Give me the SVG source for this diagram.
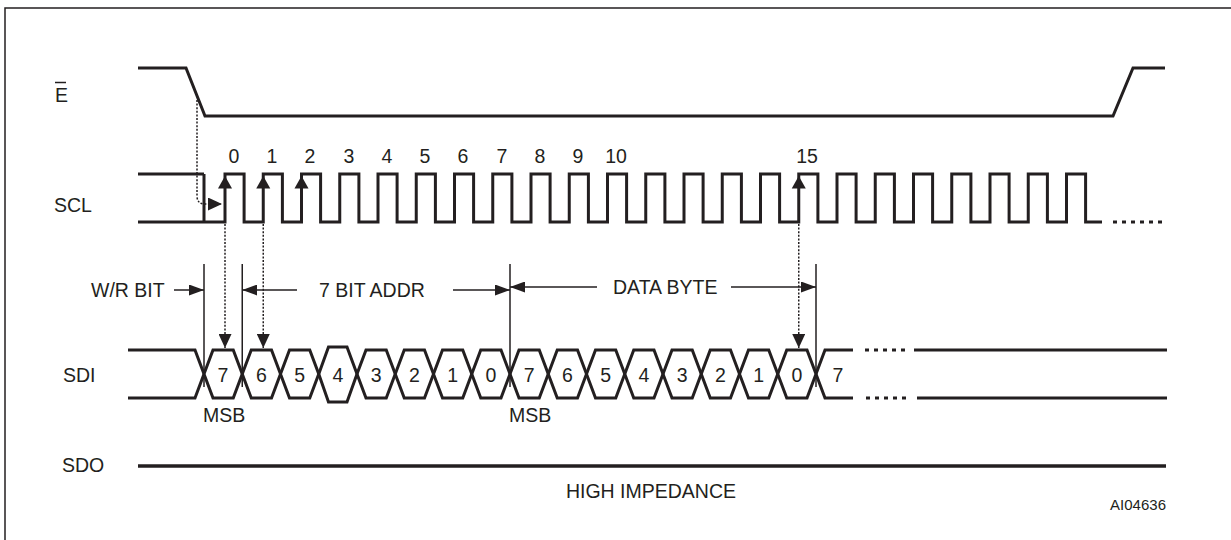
<svg xmlns="http://www.w3.org/2000/svg" width="1231" height="540" viewBox="0 0 1231 540">
<style>
text{font-family:"Liberation Sans",Arial,sans-serif;font-size:19.5px;fill:#231f20}
.sig{fill:none;stroke:#231f20;stroke-width:3;stroke-linejoin:miter}
.thin{fill:none;stroke:#231f20;stroke-width:1.5}
.dot{fill:none;stroke:#231f20;stroke-width:1.5;stroke-dasharray:2 1.6}
.head{fill:#231f20}
.mid{text-anchor:middle}
</style>
<defs>
<marker id="ah" markerUnits="userSpaceOnUse" markerWidth="15" markerHeight="11" refX="15" refY="5.5" orient="auto" viewBox="0 0 15 11">
<path d="M0,0 L15,5.5 L0,11 z" fill="#231f20"/>
</marker>
<marker id="dh" markerUnits="userSpaceOnUse" markerWidth="14" markerHeight="13" refX="14" refY="6.5" orient="auto" viewBox="0 0 14 13">
<path d="M0,0 L14,6.5 L0,13 z" fill="#231f20"/>
</marker>
</defs>
<rect x="5" y="8" width="1240" height="560" fill="none" stroke="#231f20" stroke-width="1.5"/>

<g id="E">
<text x="55" y="102">E</text>
<line x1="55" y1="82.5" x2="66" y2="82.5" class="thin"/>
<path class="sig" d="M138,68 H186 L205,116 H1113 L1133,68 H1165"/>
</g>

<g id="SCL">
<text x="54" y="212">SCL</text>
<path class="sig" d="M138,174 H204 M138,222 H204 M204,174 V222"/>
<path class="sig" d="M204,222 H225 V174 H244.1 V222 H263.25 V174 H282.4 V222 H301.5 V174 H320.6 V222 H339.75 V174 H358.9 V222 H378 V174 H397.1 V222 H416.25 V174 H435.4 V222 H454.5 V174 H473.6 V222 H492.75 V174 H511.9 V222 H531 V174 H550.1 V222 H569.25 V174 H588.4 V222 H607.5 V174 H626.6 V222 H645.75 V174 H664.9 V222 H684 V174 H703.1 V222 H722.25 V174 H741.4 V222 H760.5 V174 H779.6 V222 H798.75 V174 H817.9 V222 H837 V174 H856.1 V222 H875.25 V174 H894.4 V222 H913.5 V174 H932.6 V222 H951.75 V174 H970.9 V222 H990 V174 H1009.1 V222 H1028.25 V174 H1047.4 V222 H1066.5 V174 H1085.6 V222 H1102"/>
<line x1="1113" y1="222" x2="1164" y2="222" stroke="#231f20" stroke-width="3" stroke-dasharray="4 5"/>
<g class="mid">
<text x="234" y="163">0</text>
<text x="272" y="163">1</text>
<text x="310" y="163">2</text>
<text x="349" y="163">3</text>
<text x="387" y="163">4</text>
<text x="425" y="163">5</text>
<text x="463" y="163">6</text>
<text x="502" y="163">7</text>
<text x="540" y="163">8</text>
<text x="578" y="163">9</text>
<text x="616" y="163">10</text>
<text x="807" y="163">15</text>
</g>
</g>

<g id="SDI">
<text x="63" y="382">SDI</text>
<path class="sig" d="M128,350 H195 L204,374 M128,398 H195 L204,374"/>
<path class="sig" d="M204,374 L213,350 H233.25 L242.25,374 L233.25,398 H213 Z"/>
<path class="sig" d="M242.25,374 L251.25,350 H271.5 L280.5,374 L271.5,398 H251.25 Z"/>
<path class="sig" d="M280.5,374 L289.5,350 H309.75 L318.75,374 L309.75,398 H289.5 Z"/>
<path class="sig" d="M318.75,374 L328.5,347 H347 L357,374 L347,402 H328.5 Z"/>
<path class="sig" d="M357,374 L366,350 H386.25 L395.25,374 L386.25,398 H366 Z"/>
<path class="sig" d="M395.25,374 L404.25,350 H424.5 L433.5,374 L424.5,398 H404.25 Z"/>
<path class="sig" d="M433.5,374 L442.5,350 H462.75 L471.75,374 L462.75,398 H442.5 Z"/>
<path class="sig" d="M471.75,374 L480.75,350 H501 L510,374 L501,398 H480.75 Z"/>
<path class="sig" d="M510,374 L519,350 H539.25 L548.25,374 L539.25,398 H519 Z"/>
<path class="sig" d="M548.25,374 L557.25,350 H577.5 L586.5,374 L577.5,398 H557.25 Z"/>
<path class="sig" d="M586.5,374 L595.5,350 H615.75 L624.75,374 L615.75,398 H595.5 Z"/>
<path class="sig" d="M624.75,374 L633.75,350 H654 L663,374 L654,398 H633.75 Z"/>
<path class="sig" d="M663,374 L672,350 H692.25 L701.25,374 L692.25,398 H672 Z"/>
<path class="sig" d="M701.25,374 L710.25,350 H730.5 L739.5,374 L730.5,398 H710.25 Z"/>
<path class="sig" d="M739.5,374 L748.5,350 H768.75 L777.75,374 L768.75,398 H748.5 Z"/>
<path class="sig" d="M777.75,374 L786.75,350 H807 L816,374 L807,398 H786.75 Z"/>
<path class="sig" d="M816,374 L825,350 H853 M816,374 L825,398 H853"/>
<line x1="865" y1="350" x2="906" y2="350" stroke="#231f20" stroke-width="3" stroke-dasharray="4 5"/>
<line x1="866" y1="398" x2="907" y2="398" stroke="#231f20" stroke-width="3" stroke-dasharray="4 5"/>
<path class="sig" d="M914,350 H1167 M917,398 H1167"/>
<g class="mid">
<text x="223" y="382">7</text>
<text x="261.4" y="382">6</text>
<text x="299.6" y="382">5</text>
<text x="337.9" y="382">4</text>
<text x="376.1" y="382">3</text>
<text x="414.4" y="382">2</text>
<text x="452.6" y="382">1</text>
<text x="490.9" y="382">0</text>
<text x="529.1" y="382">7</text>
<text x="567.4" y="382">6</text>
<text x="605.6" y="382">5</text>
<text x="643.9" y="382">4</text>
<text x="682.1" y="382">3</text>
<text x="720.4" y="382">2</text>
<text x="758.6" y="382">1</text>
<text x="796.9" y="382">0</text>
<text x="838" y="382">7</text>
</g>
<text x="203" y="422">MSB</text>
<text x="509" y="422">MSB</text>
</g>

<g id="SDO">
<text x="62" y="472">SDO</text>
<line x1="138" y1="466" x2="1166" y2="466" stroke="#231f20" stroke-width="3.5"/>
<text x="651" y="498" class="mid">HIGH IMPEDANCE</text>
</g>

<g id="dimensions">
<text x="91" y="297">W/R BIT</text>
<text x="319" y="297">7 BIT ADDR</text>
<text x="613" y="294">DATA BYTE</text>
</g>

<g id="connectors">
<line class="thin" x1="204" y1="264" x2="204" y2="387"/>
<line class="thin" x1="242.25" y1="264" x2="242.25" y2="387"/>
<line class="thin" x1="510" y1="264" x2="510" y2="387"/>
<line class="thin" x1="816" y1="264" x2="816" y2="387"/>
<line class="thin" x1="174" y1="290" x2="204" y2="290" marker-end="url(#ah)"/>
<line class="thin" x1="297" y1="290" x2="242.25" y2="290" marker-end="url(#ah)"/>
<line class="thin" x1="453" y1="290" x2="510" y2="290" marker-end="url(#ah)"/>
<line class="thin" x1="597" y1="287" x2="510" y2="287" marker-end="url(#ah)"/>
<line class="thin" x1="731" y1="287" x2="816" y2="287" marker-end="url(#ah)"/>
<path class="dot" d="M197,100 V196 Q197,204 205,204 H222" marker-end="url(#dh)"/>
<polygon class="head" points="225,176 218,188.5 232,188.5"/>
<polygon class="head" points="263.25,176 256.25,188.5 270.25,188.5"/>
<polygon class="head" points="301.5,176 294.5,188.5 308.5,188.5"/>
<polygon class="head" points="798.75,176 791.75,188.5 805.75,188.5"/>
<path class="dot" d="M225,224 V348" marker-end="url(#dh)"/>
<path class="dot" d="M263.25,224 V348" marker-end="url(#dh)"/>
<path class="dot" d="M798.75,224 V348" marker-end="url(#dh)"/>
</g>
<text x="1166" y="510" style="font-size:15px;text-anchor:end">AI04636</text>
</svg>
